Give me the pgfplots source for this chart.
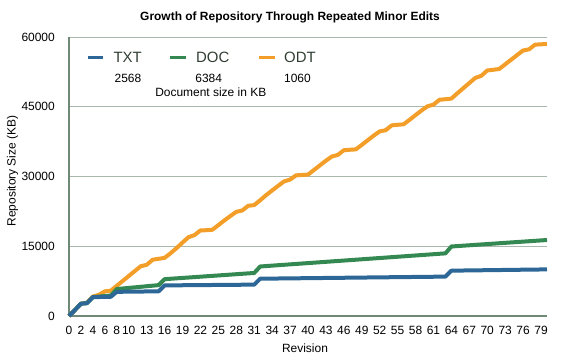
\documentclass[border=0pt]{standalone}
\usepackage{pgfplots}
\pgfplotsset{compat=1.18}
\usepackage{pgfplotstable}
\usepackage{fontspec}
\setmainfont{Liberation Sans}
\definecolor{txtc}{RGB}{44,103,152}
\definecolor{docc}{RGB}{52,136,82}
\definecolor{odtc}{RGB}{242,158,40}
\definecolor{axisc}{RGB}{112,136,118}
\definecolor{gridc}{RGB}{168,184,172}
\definecolor{legc}{RGB}{48,62,50}

\pgfplotstableread{
rev txt doc odt
0 0 0 0
1 1300 1300 1300
2 2650 2650 2650
3 2750 2760 2850
4 4050 4060 4200
5 4080 4170 4550
6 4110 4290 5300
7 4140 4410 5450
8 5200 5800 6500
9 5215 5920 7550
10 5230 6040 8600
11 5245 6160 9650
12 5260 6280 10700
13 5275 6400 11000
14 5290 6520 12100
15 5305 6640 12300
16 6580 7920 12500
17 6591 8009 13500
18 6602 8098 14600
19 6613 8187 15800
20 6624 8276 16950
21 6635 8365 17400
22 6646 8454 18400
23 6657 8543 18450
24 6668 8632 18550
25 6679 8721 19550
26 6690 8810 20550
27 6701 8899 21500
28 6712 8988 22400
29 6723 9077 22700
30 6734 9166 23700
31 6745 9255 23850
32 8020 10650 24900
33 8035 10741 26000
34 8049 10832 27000
35 8064 10923 28000
36 8078 11014 28950
37 8093 11105 29330
38 8107 11196 30250
39 8122 11287 30330
40 8136 11378 30400
41 8151 11469 31400
42 8165 11560 32400
43 8180 11651 33400
44 8194 11742 34300
45 8209 11833 34650
46 8223 11924 35650
47 8238 12015 35750
48 8252 12106 35830
49 8267 12197 36800
50 8281 12288 37800
51 8296 12379 38800
52 8310 12470 39700
53 8325 12561 39950
54 8339 12652 41000
55 8354 12743 41120
56 8368 12834 41220
57 8383 12925 42200
58 8397 13016 43200
59 8412 13107 44200
60 8426 13198 45100
61 8441 13289 45450
62 8455 13380 46500
63 8470 13471 46620
64 9750 14950 46750
65 9767 15037 47900
66 9784 15124 49000
67 9801 15211 50100
68 9818 15298 51200
69 9835 15385 51650
70 9852 15472 52800
71 9869 15559 52950
72 9886 15646 53120
73 9903 15733 54120
74 9920 15820 55120
75 9937 15907 56120
76 9954 15994 57100
77 9971 16081 57350
78 9988 16168 58350
79 10005 16255 58430
80 10022 16342 58500
}\datatable

\begin{document}
\begin{tikzpicture}
\path[use as bounding box] (-69bp,-38bp) rectangle (501bp,316bp);
\begin{axis}[
  at={(0bp,0bp)}, anchor=south west,
  scale only axis, width=478bp, height=279bp,
  xmin=0, xmax=80, ymin=0, ymax=60000,
  axis lines=left,
  axis line style={-, draw=axisc, line width=2bp},
  xtick={0,2,4,6,8,10,13,16,19,22,25,28,31,34,37,40,43,46,49,52,55,58,61,64,67,70,73,76,79},
  ytick={0,15000,30000,45000,60000},
  major tick length=0pt,
  ymajorgrids,
  grid style={draw=gridc, line width=1bp},
  tick label style={font=\fontsize{12}{14}\selectfont, text=black},
  /pgf/number format/assume math mode=true,
  scaled y ticks=false,
  yticklabel style={/pgf/number format/1000 sep={}, anchor=east, inner sep=0pt, xshift=-14bp},
  xticklabel style={anchor=north, inner sep=0pt, yshift=-10bp},
  clip=false,
]
\addplot[odtc, line width=4bp, line join=round] table[x=rev, y=odt] {\datatable};
\addplot[docc, line width=4bp, line join=round] table[x=rev, y=doc] {\datatable};
\addplot[txtc, line width=4bp, line join=round] table[x=rev, y=txt] {\datatable};
\end{axis}
% title and labels
\node[font=\bfseries\fontsize{12}{14}\selectfont] at (221bp,299bp) {Growth of Repository Through Repeated Minor Edits};
\node[font=\fontsize{12}{14}\selectfont] at (236bp,-32bp) {Revision};
\node[font=\fontsize{12}{14}\selectfont, rotate=90] at (-56.5bp,145bp) {Repository Size (KB)};
% legend
\draw[txtc, line width=3bp] (19.3bp,258bp) -- (34.3bp,258bp);
\node[font=\fontsize{15}{17}\selectfont, text=legc, anchor=west, inner sep=0pt] at (44.3bp,258.3bp) {TXT};
\draw[docc, line width=3bp] (101bp,258bp) -- (116.5bp,258bp);
\node[font=\fontsize{15}{17}\selectfont, text=legc, anchor=west, inner sep=0pt] at (127bp,258.3bp) {DOC};
\draw[odtc, line width=3bp] (190.3bp,258bp) -- (206bp,258bp);
\node[font=\fontsize{15}{17}\selectfont, text=legc, anchor=west, inner sep=0pt] at (215bp,258.3bp) {ODT};
\node[font=\fontsize{12}{14}\selectfont] at (59bp,237.7bp) {2568};
\node[font=\fontsize{12}{14}\selectfont] at (139.7bp,237.7bp) {6384};
\node[font=\fontsize{12}{14}\selectfont] at (228.5bp,237.7bp) {1060};
\node[font=\fontsize{12}{14}\selectfont] at (141.8bp,223.7bp) {Document size in KB};
\end{tikzpicture}
\end{document}
